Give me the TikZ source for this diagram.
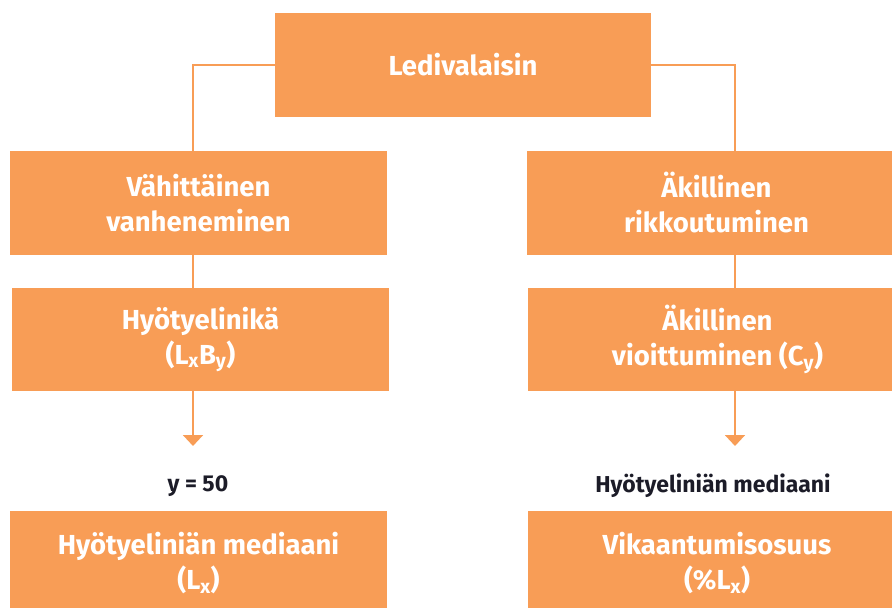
\documentclass[tikz,border=0pt]{standalone}
\usepackage{fontspec}
\setmainfont{Fira Sans}
\usetikzlibrary{arrows.meta}

\definecolor{ledorange}{RGB}{248,157,86}
\definecolor{labeldark}{RGB}{28,28,40}

\begin{document}
\begin{tikzpicture}[x=1pt, y=-1pt,
    box/.style={fill=ledorange, text=white, minimum width=377pt, minimum height=104pt,
        inner sep=0pt, align=center, font=\fontsize{27.5}{35}\selectfont\bfseries},
    link/.style={draw=ledorange, line width=2pt},
    lbl/.style={text=labeldark, inner sep=2pt, font=\fontsize{23}{26}\selectfont\bfseries}]
    \useasboundingbox (0,0) rectangle (892,608);

% boxes
\node (top) at (463,65) [box, minimum width=376pt] {Ledivalaisin};
\node (vah) at (198.5,203) [box] {Vähittäinen\\vanheneminen};
\node (aki) at (716.5,203) [box, minimum width=379pt] {Äkillinen\\rikkoutuminen};
\node (hyo) at (200.5,339.5) [box, minimum height=103pt] {Hyötyelinikä\\(L\textsubscript{x}B\textsubscript{y})};
\node (vio) at (717.5,339.5) [box, minimum height=103pt, minimum width=379pt] {Äkillinen\\vioittuminen (C\textsubscript{y})};
\node (med) at (198.5,563) [box] {Hyötyeliniän mediaani\\(L\textsubscript{x})};
\node (vik) at (717,563) [box, minimum width=378pt] {Vikaantumisosuus\\(\%L\textsubscript{x})};

% labels above the bottom row
\node (ly) at (198,486) [lbl] {y = 50};
\node (lm) at (713,486) [lbl] {Hyötyeliniän mediaani};

\coordinate (al) at (193,446);
\coordinate (ar) at (735,446);

% connectors
\draw[link] (top.west) -| ([xshift=-5.5pt]vah.north);
\draw[link] (top.east) -| ([xshift=18.5pt]aki.north);
\draw[link] ([xshift=-5.5pt]vah.south) -- ([xshift=-5.5pt]vah.south |- hyo.north);
\draw[link] ([xshift=18.5pt]aki.south) -- ([xshift=18.5pt]aki.south |- vio.north);
\draw[link, -{Triangle[width=20pt, length=11pt]}] (hyo.south -| al) -- (al);
\draw[link, -{Triangle[width=20pt, length=11pt]}] (vio.south -| ar) -- (ar);
\end{tikzpicture}
\end{document}
